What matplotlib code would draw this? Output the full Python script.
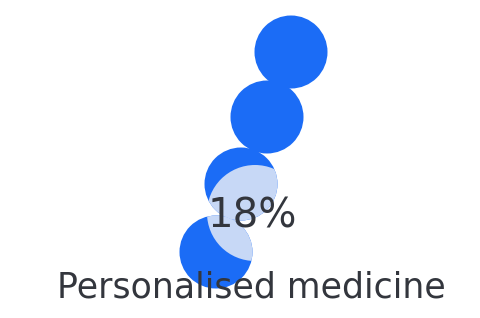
import matplotlib
matplotlib.use('Agg')
import matplotlib.pyplot as plt
from matplotlib.patches import Circle

# chart values
value_pct = 18
label = 'Personalised medicine'

# pictogram of 4 dots (pixel coords, y down)
dot_x = [291, 267, 241, 216]
dot_y = [52, 117, 184, 252]
dot_r = 36.5
fill_x, fill_y, fill_r = 255, 213, 48

blue = '#1b6cf6'
light = '#c7d8f6'
ink = '#33363d'

fig = plt.figure(figsize=(4.8, 3.18), dpi=100)
ax = fig.add_axes([0, 0, 1, 1])
ax.set_xlim(0, 480)
ax.set_ylim(318, 0)
ax.set_aspect('equal')
ax.axis('off')

dots = []
for x, y in zip(dot_x, dot_y):
    dots.append(ax.add_patch(Circle((x, y), dot_r, color=blue, lw=0)))

# light overlay, clipped to each of the two lowest dots
for d in dots[2:]:
    hl = ax.add_patch(Circle((fill_x, fill_y), fill_r, color=light, lw=0))
    hl.set_clip_path(d)

ax.text(252, 228, f'{value_pct}%', ha='center', va='baseline',
        fontsize=29, color=ink, family='DejaVu Sans')
ax.text(251, 298, label, ha='center', va='baseline',
        fontsize=25, color=ink, family='DejaVu Sans')

fig.savefig('out.png', dpi=100)
